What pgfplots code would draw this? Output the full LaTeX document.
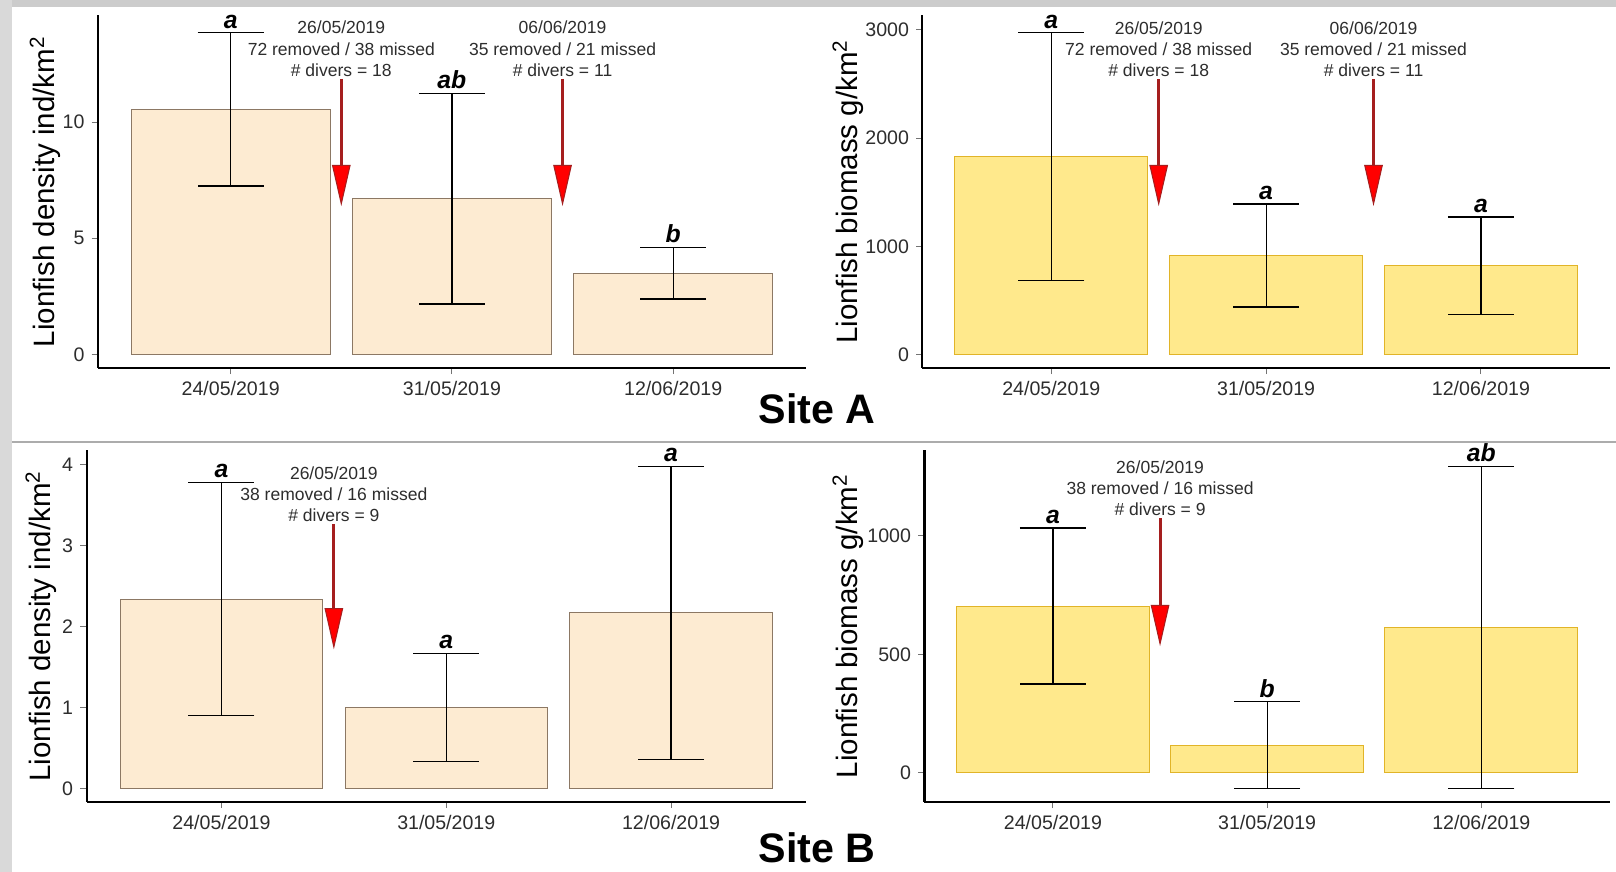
\documentclass[border=0pt]{standalone}
\usepackage{pgfplots}
\pgfplotsset{compat=1.18}
\usetikzlibrary{arrows.meta}
\usepackage{fontspec}
\setmainfont{Liberation Sans}
\definecolor{densfill}{RGB}{253,235,210}
\definecolor{densedge}{RGB}{140,120,100}
\definecolor{biofill}{RGB}{255,233,140}
\definecolor{bioedge}{RGB}{225,180,40}
\definecolor{shaft}{RGB}{165,30,30}
\definecolor{txtgray}{RGB}{45,45,45}

\pgfplotsset{
  panel/.style={
    scale only axis, anchor=south west, clip=false,
    axis x line=bottom, axis y line=left,
    axis line style={line width=1pt, -},
    xmin=0.4, xmax=3.6,
    xtick={1,2,3}, xticklabels={24/05/2019,31/05/2019,12/06/2019},
    tick align=outside, major tick length=3pt,
    tick style={black!55, line width=0.5pt},
    tick label style={font=\fontsize{9.5}{10}\selectfont, text=txtgray},
    /pgf/number format/assume math mode=true,
    scaled y ticks=false,
    /pgf/number format/1000 sep={},
    ybar, bar width=0.9,
  },
  errs/.style={error bars/.cd, y dir=both, y explicit,
    error mark=|,
    error bar style={black, line width=0.6pt, solid},
    error mark options={black, line width=0.6pt, mark size=16pt}},
}
\tikzset{
  letter/.style={anchor=south, inner sep=0pt, yshift=2pt, font=\fontsize{12}{12}\selectfont\bfseries\itshape},
  annot/.style={anchor=south, align=center, inner sep=1pt, text=txtgray, font=\fontsize{8.5}{10.25}\selectfont},
  redarrow/.style={draw=shaft, line width=1.5pt, -{Triangle[length=20pt, width=9pt, fill=red, line width=0.5pt]}},
  ylab/.style={rotate=90, anchor=center, font=\fontsize{14.3}{15}\selectfont},
}

\begin{document}
\begin{tikzpicture}
\useasboundingbox (0,0) rectangle (784pt,423pt);
\fill[white] (0,0) rectangle (784pt,423pt);
\fill[gray!40] (0,419.6pt) rectangle (784pt,423pt);
\fill[gray!30] (0,0) rectangle (5.8pt,423pt);
\draw[gray!65, line width=1pt] (5.8pt,208.7pt) -- (784pt,208.7pt);

% ---------- Site A, density ----------
\begin{axis}[panel, at={(47.5pt,244.5pt)}, width=343.5pt, height=171pt,
  ymin=-0.58, ymax=14.6, ytick={0,5,10}]
\addplot[fill=densfill, draw=densedge, line width=0.5pt, errs]
  table[x=x, y=y, y error=e] {
x y e
1 10.55 3.30
2 6.70 4.53
3 3.50 1.11
};
\node[letter] at (axis cs:1,13.85) {a};
\node[letter] at (axis cs:2,11.23) {ab};
\node[letter] at (axis cs:3,4.61) {b};
\node[annot] at (axis cs:1.5,11.87) {26/05/2019\\72 removed / 38 missed\\\# divers = 18};
\node[annot] at (axis cs:2.5,11.87) {06/06/2019\\35 removed / 21 missed\\\# divers = 11};
\draw[redarrow] (axis cs:1.5,11.87) -- (axis cs:1.5,6.39);
\draw[redarrow] (axis cs:2.5,11.87) -- (axis cs:2.5,6.39);
\node[ylab] at ([xshift=-25.5pt]axis description cs:0,0.5) {Lionfish density ind/km\textsuperscript{2}};
\end{axis}

% ---------- Site A, biomass ----------
\begin{axis}[panel, at={(447.5pt,244.5pt)}, width=333.5pt, height=171pt,
  ymin=-124, ymax=3133, ytick={0,1000,2000,3000}]
\addplot[fill=biofill, draw=bioedge, line width=0.5pt, errs]
  table[x=x, y=y, y error=e] {
x y e
1 1829 1143
2 914 476
3 819 452
};
\node[letter] at (axis cs:1,2972) {a};
\node[letter] at (axis cs:2,1390) {a};
\node[letter] at (axis cs:3,1271) {a};
\node[annot] at (axis cs:1.5,2543) {26/05/2019\\72 removed / 38 missed\\\# divers = 18};
\node[annot] at (axis cs:2.5,2543) {06/06/2019\\35 removed / 21 missed\\\# divers = 11};
\draw[redarrow] (axis cs:1.5,2543) -- (axis cs:1.5,1371);
\draw[redarrow] (axis cs:2.5,2543) -- (axis cs:2.5,1371);
\node[ylab] at ([xshift=-36pt]axis description cs:0,0.5) {Lionfish biomass g/km\textsuperscript{2}};
\end{axis}

% ---------- Site B, density ----------
\begin{axis}[panel, at={(42pt,34pt)}, width=349pt, height=170.5pt,
  ymin=-0.166, ymax=4.18, ytick={0,1,2,3,4}]
\addplot[fill=densfill, draw=densedge, line width=0.5pt, errs]
  table[x=x, y=y, y error=e] {
x y e
1 2.34 1.44
2 1.00 0.665
3 2.17 1.81
};
\node[letter] at (axis cs:1,3.78) {a};
\node[letter] at (axis cs:2,1.665) {a};
\node[letter] at (axis cs:3,3.98) {a};
\node[annot] at (axis cs:1.5,3.27) {26/05/2019\\38 removed / 16 missed\\\# divers = 9};
\draw[redarrow] (axis cs:1.5,3.27) -- (axis cs:1.5,1.72);
\node[ylab] at ([xshift=-22pt]axis description cs:0,0.5) {Lionfish density ind/km\textsuperscript{2}};
\end{axis}

% ---------- Site B, biomass ----------
\begin{axis}[panel, at={(448.5pt,34pt)}, width=332.5pt, height=170.5pt,
  ymin=-122, ymax=1361, ytick={0,500,1000}]
\addplot[fill=biofill, draw=bioedge, line width=0.5pt, errs]
  table[x=x, y=y, y error=e] {
x y e
1 704 329
2 117 183
3 613 680
};
\node[letter] at (axis cs:1,1033) {a};
\node[letter] at (axis cs:2,300) {b};
\node[letter] at (axis cs:3,1293) {ab};
\node[annot] at (axis cs:1.5,1074) {26/05/2019\\38 removed / 16 missed\\\# divers = 9};
\draw[redarrow] (axis cs:1.5,1074) -- (axis cs:1.5,535);
\node[ylab] at ([xshift=-37pt]axis description cs:0,0.5) {Lionfish biomass g/km\textsuperscript{2}};
\end{axis}

\node[font=\fontsize{20}{22}\selectfont\bfseries] at (396.5pt,224.5pt) {Site A};
\node[font=\fontsize{20}{22}\selectfont\bfseries] at (396.5pt,11.5pt) {Site B};
\end{tikzpicture}
\end{document}
